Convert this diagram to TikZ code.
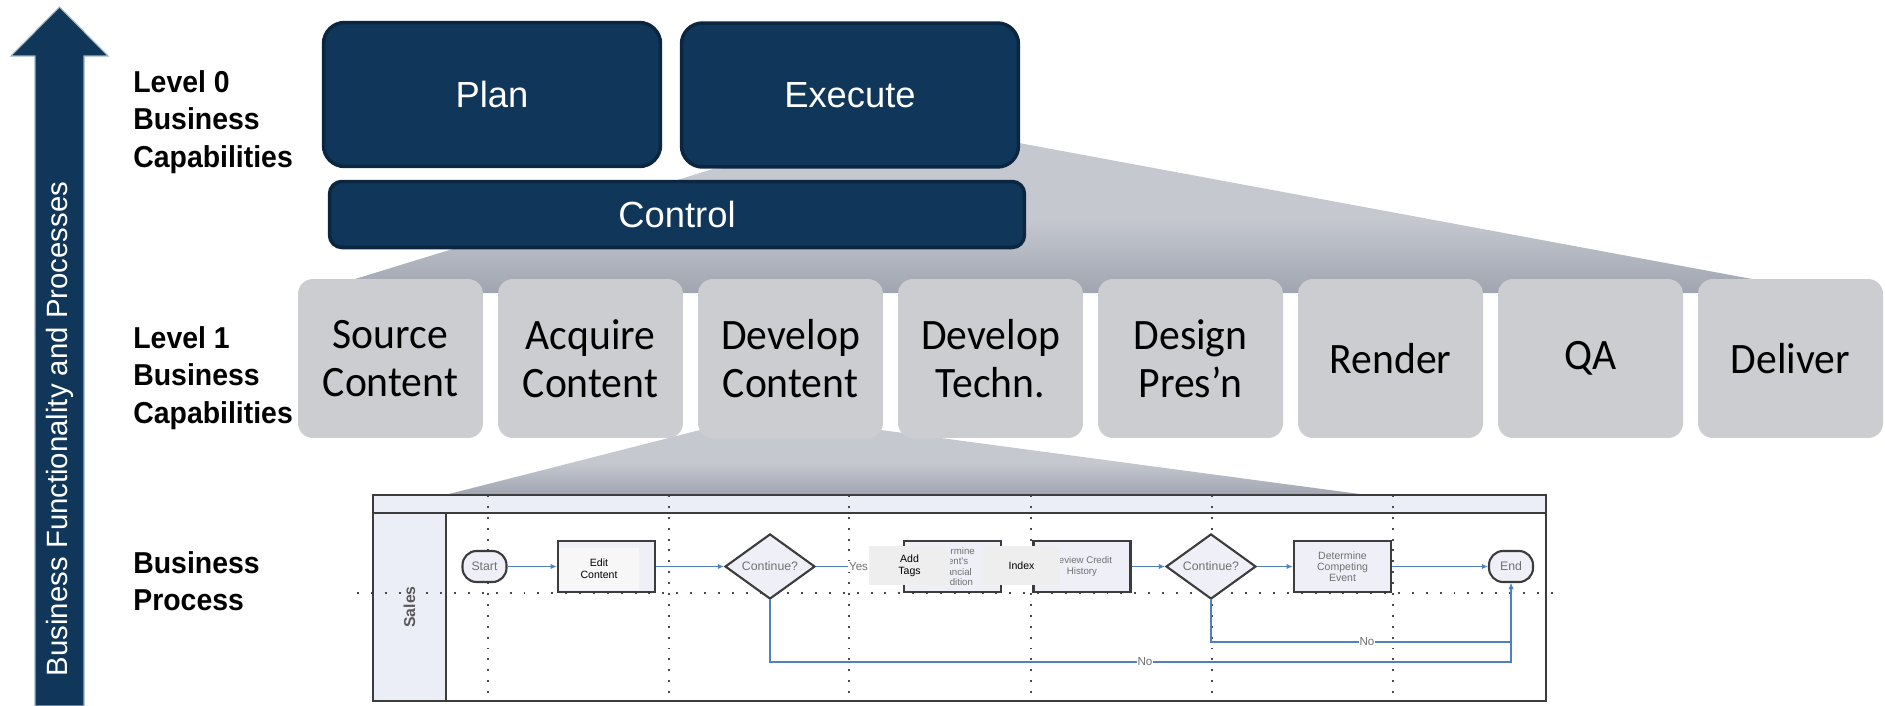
\documentclass[tikz,border=0pt]{standalone}
\usepackage{fontspec}
\setmainfont{Liberation Sans}
\newfontfamily\calibri[FakeStretch=0.96]{Carlito}
\newfontfamily\lvlfont[FakeStretch=0.94]{Liberation Sans Bold}
\usetikzlibrary{shapes.geometric,arrows.meta}

\definecolor{navy}{HTML}{10375A}
\definecolor{navyedge}{HTML}{0A2640}
\definecolor{arrowedge}{HTML}{9DB1C6}
\definecolor{capgray}{HTML}{CBCDD1}
\definecolor{funneltop}{HTML}{C5C8CF}
\definecolor{funnelbot}{HTML}{A0A5B1}
\definecolor{lanefill}{HTML}{ECEEF7}
\definecolor{procfill}{HTML}{EFF0F7}
\definecolor{procedge}{HTML}{3C3C3C}
\definecolor{proctext}{HTML}{707070}
\definecolor{dotgray}{HTML}{4A4A4A}
\definecolor{flowblue}{HTML}{4F81BD}
\definecolor{tagfill}{HTML}{EEEEEE}

\begin{document}
\begin{tikzpicture}[x=0.02cm, y=-0.02cm]
    \tikzset{lvltext/.style = {anchor=north west, align=left, inner sep=0, font=\lvlfont\fontsize{17.2}{21.3}\selectfont}}
    \tikzset{lvlzero/.style = {fill=navy, draw=navyedge, line width=2pt, rounded corners=12pt, inner sep=0, text=white, font=\fontsize{20.7}{24}\selectfont}}
    \tikzset{lvlone/.style = {fill=capgray, rounded corners=8.5pt, minimum width=3.7cm, minimum height=3.18cm, inner sep=0, align=center, font=\calibri\fontsize{24.7}{27.2}\selectfont}}
    \tikzset{funnel/.style = {top color=funneltop, bottom color=funnelbot, middle color=funneltop}}
    \tikzset{lane/.style = {draw=procedge, line width=1.2pt}}
    \tikzset{dots/.style = {draw=dotgray, line width=1.1pt, dash pattern=on 1.1pt off 5.1pt}}
    \tikzset{pbox/.style = {draw=procedge, line width=1.4pt, fill=procfill, minimum width=1.94cm, minimum height=1.02cm, inner sep=0, align=center, text=proctext, font=\fontsize{5.5}{5.9}\selectfont}}
    \tikzset{pdec/.style = {diamond, draw=procedge, line width=1.2pt, fill=procfill, minimum width=1.8cm, minimum height=0.96cm, inner sep=0, text=proctext, font=\fontsize{7}{8}\selectfont}}
    \tikzset{pterm/.style = {draw=procedge, line width=1.2pt, fill=procfill, rounded corners=8pt, minimum width=0.88cm, minimum height=0.62cm, inner sep=0, text=proctext, font=\fontsize{7}{8}\selectfont}}
    \tikzset{tagbox/.style = {fill=tagfill, inner sep=0, align=center, font=\fontsize{6}{7}\selectfont}}
    \tikzset{flow/.style = {draw=flowblue, line width=1.1pt, -{Latex[length=3.5pt,width=3pt]}}}
    \tikzset{flowlbl/.style = {fill=white, inner sep=0.6pt, text=proctext, font=\fontsize{6.6}{7}\selectfont}}

    \useasboundingbox (0,0) rectangle (1885,706);

    % rising arrow on the left
    \fill[navy, draw=arrowedge, line width=0.6pt] (35,706) -- (35,56) -- (11,56) -- (59.5,7) -- (108,56) -- (84,56) -- (84,706) -- cycle;
    \node[rotate=90, text=white, font=\fontsize{16.7}{20}\selectfont] (axis) at (59.5,429) {Business Functionality and Processes};

    % level names
    \node[lvltext] (lvl0) at (133,70) {Level 0\\Business\\Capabilities};
    \node[lvltext] (lvl1) at (133,326) {Level 1\\Business\\Capabilities};
    \node[lvltext] (lvlp) at (133,551) {Business\\Process};

    % grey funnels behind the boxes
    \shade[funnel] (713,169) -- (1019,143) -- (1752,279) -- (1752,293) -- (330,293) -- (355,279) -- cycle;
    \shade[funnel] (700,430) -- (881,430) -- (1367,495) -- (445,495) -- cycle;

    % level 0
    \node[lvlzero, minimum width=6.74cm, minimum height=2.88cm] (plan) at (492,94.5) {Plan};
    \node[lvlzero, minimum width=6.74cm, minimum height=2.88cm] (execute) at (850,95) {Execute};
    \node[lvlzero, rounded corners=7pt, minimum width=13.9cm, minimum height=1.32cm] (control) at (677,214.5) {Control};

    % level 1
    \node[lvlone] (source) at (390.5,358.5) {Source\\Content};
    \node[lvlone] (acquire) at (590.5,358.5) {Acquire\\Content};
    \node[lvlone] (devcontent) at (790.5,358.5) {Develop\\Content};
    \node[lvlone] (devtechn) at (990.5,358.5) {Develop\\Techn.};
    \node[lvlone] (design) at (1190.5,358.5) {Design\\Pres’n};
    \node[lvlone] (render) at (1390.5,358.5) {Render};
    \node[lvlone] (qa) at (1590.5,358.5) {QA};
    \node[lvlone] (deliver) at (1790.5,358.5) {Deliver};

    % swimlane
    \fill[white] (373,513) rectangle (1546,701);
    \fill[lanefill] (373,495) rectangle (1546,513);
    \fill[lanefill] (373,513) rectangle (446,701);
    \draw[dots] (488,495) -- (488,701) (669,495) -- (669,701) (849,495) -- (849,701)
        (1031,495) -- (1031,701) (1212,495) -- (1212,701) (1393,495) -- (1393,701);
    \draw[dots, dash pattern=on 1.1pt off 6.8pt] (357,593) -- (1563,593);
    \draw[lane] (373,495) rectangle (1546,701);
    \draw[lane, line width=1.7pt] (373,513) -- (1546,513);
    \draw[lane] (446,513) -- (446,701);
    \node[rotate=90, text=black!65, font=\bfseries\fontsize{9}{10}\selectfont] (sales) at (409.5,607) {Sales};

    % process steps
    \node[pterm] (start) at (484.5,566.5) {Start};
    \node[pbox] (edit) at (606.5,566.5) {};
    \node[pdec] (dec1) at (770,566.5) {Continue?};
    \node[pbox] (finance) at (952.5,566.5) {Determine\\Client's\\Financial\\Condition};
    \node[pbox] (credit) at (1082,566.5) {Review Credit\\History};
    \node[pdec] (dec2) at (1211,566.5) {Continue?};
    \node[pbox, font=\fontsize{6}{6.2}\selectfont] (compete) at (1342.5,566.5) {Determine\\Competing\\Event};
    \node[pterm] (end) at (1511,566.5) {End};

    \coordinate (noA) at (1211,642);
    \coordinate (noB) at (770,662);

    \draw[flow] (start) -- (edit);
    \draw[flow] (edit) -- (dec1);
    \draw[flow] (dec1) -- node[pos=0.49, flowlbl] {Yes} (finance);
    \draw[flow] (finance) -- (credit);
    \draw[flow] (credit) -- (dec2);
    \draw[flow] (dec2) -- (compete);
    \draw[flow] (compete) -- (end);
    \draw[flow] (dec2.south) -- (noA) -| node[pos=0.26, flowlbl] {No} (end.south);
    \draw[flow] (dec1.south) -- (noB) -| node[pos=0.253, flowlbl] {No} (end.south);

    % relabelled steps
    \node[tagbox, fill=white!97!black, minimum width=1.6cm, minimum height=0.84cm] (edittag) at (599,569) {Edit\\Content};
    \node[tagbox, minimum width=1.62cm, minimum height=0.78cm] (addtags) at (909.5,565.5) {Add\\Tags};
    \node[tagbox, minimum width=1.54cm, minimum height=0.78cm] (index) at (1021.5,565.5) {Index};

\end{tikzpicture}
\end{document}
